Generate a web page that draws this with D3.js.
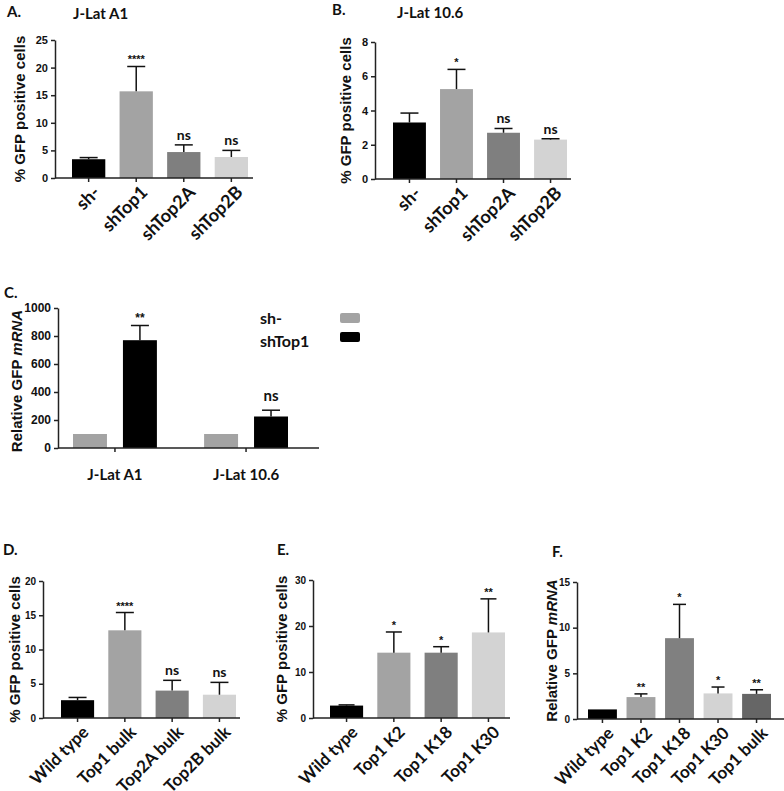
<!DOCTYPE html>
<html>
<head>
<meta charset="utf-8">
<script src="https://cdn.jsdelivr.net/npm/d3@7"></script>
<style>body { margin: 0; background: #fff; }</style>
</head>
<body>
<script>
// ---- data ----
const catsA = ["sh-", "shTop1", "shTop2A", "shTop2B"];
const meanA = [3.4, 15.7, 4.7, 3.8];
const errA  = [3.7, 20.2, 6.0, 5.0];
const sigA  = ["", "****", "ns", "ns"];
const ticksA = [0, 5, 10, 15, 20, 25];

const catsB = ["sh-", "shTop1", "shTop2A", "shTop2B"];
const meanB = [3.3, 5.25, 2.7, 2.3];
const errB  = [3.85, 6.4, 2.95, 2.35];
const sigB  = ["", "*", "ns", "ns"];
const ticksB = [0, 2, 4, 6, 8];

const groupsC = ["J-Lat A1", "J-Lat 10.6"];
const seriesC = ["sh-", "shTop1"];
const meanC = [[100, 770], [100, 225]];
const errC  = [[100, 875], [100, 270]];
const sigC  = [["", "**"], ["", "ns"]];
const ticksC = [0, 200, 400, 600, 800, 1000];

const catsD = ["Wild type", "Top1 bulk", "Top2A bulk", "Top2B bulk"];
const meanD = [2.6, 12.8, 4.0, 3.4];
const errD  = [3.0, 15.4, 5.5, 5.2];
const sigD  = ["", "****", "ns", "ns"];
const ticksD = [0, 5, 10, 15, 20];

const catsE = ["Wild type", "Top1 K2", "Top1 K18", "Top1 K30"];
const meanE = [2.7, 14.2, 14.2, 18.6];
const errE  = [2.85, 18.7, 15.5, 25.9];
const sigE  = ["", "*", "*", "**"];
const ticksE = [0, 10, 20, 30];

const catsF = ["Wild type", "Top1 K2", "Top1 K18", "Top1 K30", "Top1 bulk"];
const meanF = [1.05, 2.4, 8.85, 2.8, 2.75];
const errF  = [1.05, 2.75, 12.55, 3.5, 3.2];
const sigF  = ["", "**", "*", "*", "**"];
const ticksF = [0, 5, 10, 15];

// ---- styles ----
const grey4 = ["#000000", "#a3a3a3", "#7f7f7f", "#d3d3d3"];
const grey5 = ["#000000", "#a3a3a3", "#808080", "#d3d3d3", "#666666"];
const colorsC = ["#a3a3a3", "#000000"];
const tickFont = "'Liberation Sans', Arial, sans-serif";
const labFont = "Lato, 'Open Sans', sans-serif";
const axisColor = "#222";
const gfpTitle = [["% GFP positive cells", false]];
const mrnaTitle = [["Relative GFP ", false], ["mRNA", true]];

const svg = d3.select("body").append("svg")
    .attr("width", 784).attr("height", 791);

function styleYAxis(sel, size) {
    sel.select(".domain").attr("stroke", axisColor).attr("stroke-width", 1.5);
    sel.selectAll(".tick line").attr("stroke", axisColor).attr("stroke-width", 1.5);
    sel.selectAll(".tick text").attr("font-family", tickFont).attr("font-weight", "bold")
       .attr("font-size", size).attr("fill", "#111");
}

function yTitle(x, y, parts, size) {
    const t = svg.append("text")
        .attr("transform", `translate(${x},${y}) rotate(-90)`)
        .attr("text-anchor", "middle").attr("dy", "0.35em")
        .attr("font-family", tickFont).attr("font-weight", "bold")
        .attr("font-size", size).attr("fill", "#111");
    parts.forEach(p => t.append("tspan").attr("font-style", p[1] ? "italic" : "normal").text(p[0]));
}

function label(x, y, txt, size, font) {
    svg.append("text").attr("x", x).attr("y", y)
       .attr("font-family", font || labFont).attr("font-weight", "bold")
       .attr("font-size", size).attr("fill", "#111").text(txt);
}

function barPanel(p) {
    const y = d3.scaleLinear().domain([0, p.ticks[p.ticks.length - 1]]).range([p.y0, p.yTop]);
    const x = d3.scaleBand().domain(p.cats).range([p.bx0, p.bx1]).paddingInner(p.pad);
    const g = svg.append("g");
    const bw = x.bandwidth();

    g.selectAll("rect.bar").data(p.cats).join("rect")
        .attr("class", "bar")
        .attr("x", d => x(d)).attr("width", bw)
        .attr("y", (d, i) => y(p.mean[i]))
        .attr("height", (d, i) => p.y0 - y(p.mean[i]))
        .attr("fill", (d, i) => p.colors[i]);

    p.cats.forEach((d, i) => {
        const cx = x(d) + bw / 2;
        if (p.err[i] > p.mean[i]) {
            g.append("line").attr("x1", cx).attr("x2", cx)
             .attr("y1", y(p.mean[i])).attr("y2", y(p.err[i]))
             .attr("stroke", "#111").attr("stroke-width", 1.5);
            g.append("line").attr("x1", cx - p.cap / 2).attr("x2", cx + p.cap / 2)
             .attr("y1", y(p.err[i])).attr("y2", y(p.err[i]))
             .attr("stroke", "#111").attr("stroke-width", 1.5);
        }
        if (p.sig[i]) {
            const star = p.sig[i] !== "ns";
            g.append("text").attr("x", cx).attr("y", y(p.err[i]) - (star ? 3 : 5))
             .attr("text-anchor", "middle")
             .attr("font-family", star ? tickFont : labFont).attr("font-weight", "bold")
             .attr("font-size", star ? 11 : 14).attr("fill", "#111")
             .text(p.sig[i]);
        }
    });

    const ya = g.append("g").attr("transform", `translate(${p.ax},0)`)
        .call(d3.axisLeft(y).tickValues(p.ticks).tickSize(4).tickSizeOuter(0).tickPadding(3));
    styleYAxis(ya, p.tickSize);

    g.append("line").attr("x1", p.ax).attr("x2", p.axEnd)
     .attr("y1", p.y0).attr("y2", p.y0)
     .attr("stroke", axisColor).attr("stroke-width", 1.5);

    const xa = g.append("g").attr("transform", `translate(0,${p.y0})`)
        .call(d3.axisBottom(x).tickSize(4).tickSizeOuter(0));
    xa.select(".domain").remove();
    xa.selectAll(".tick line").attr("stroke", axisColor).attr("stroke-width", 1.5);
    xa.selectAll(".tick text")
        .attr("x", 0).attr("y", 0).attr("dy", "0.35em")
        .attr("transform", "translate(8,11) rotate(-45)")
        .attr("text-anchor", "end")
        .attr("font-family", labFont).attr("font-weight", "bold")
        .attr("font-size", p.catSize).attr("fill", "#111");

    yTitle(p.titleX, (p.y0 + p.yTop) / 2, p.title, p.titleSize);
}

// ---- panel A ----
label(7, 17, "A.", 15);
label(73, 19, "J-Lat A1", 15);
barPanel({ cats: catsA, mean: meanA, err: errA, sig: sigA, ticks: ticksA, colors: grey4,
    ax: 55, axEnd: 253, y0: 178, yTop: 40, bx0: 72, bx1: 248, pad: 0.3, cap: 18,
    tickSize: 11, catSize: 18, title: gfpTitle, titleX: 20, titleSize: 15 });

// ---- panel B ----
label(332, 15, "B.", 15);
label(397, 18, "J-Lat 10.6", 15);
barPanel({ cats: catsB, mean: meanB, err: errB, sig: sigB, ticks: ticksB, colors: grey4,
    ax: 375, axEnd: 571, y0: 179, yTop: 42, bx0: 393, bx1: 567, pad: 0.3, cap: 18,
    tickSize: 11, catSize: 18, title: gfpTitle, titleX: 346, titleSize: 15 });

// ---- panel C (grouped) ----
label(4, 298, "C.", 15);
{
    const y = d3.scaleLinear().domain([0, 1000]).range([448, 308]);
    const x0 = d3.scaleBand().domain(groupsC).range([73, 288]).paddingInner(0.36);
    const x1 = d3.scaleBand().domain(seriesC).range([0, x0.bandwidth()]).paddingInner(0.32);
    const g = svg.append("g");
    groupsC.forEach((grp, gi) => {
        seriesC.forEach((s, si) => {
            const bx = x0(grp) + x1(s), bw = x1.bandwidth(), cx = bx + bw / 2;
            g.append("rect").attr("x", bx).attr("width", bw)
             .attr("y", y(meanC[gi][si])).attr("height", 448 - y(meanC[gi][si]))
             .attr("fill", colorsC[si]);
            if (errC[gi][si] > meanC[gi][si]) {
                g.append("line").attr("x1", cx).attr("x2", cx)
                 .attr("y1", y(meanC[gi][si])).attr("y2", y(errC[gi][si]))
                 .attr("stroke", "#111").attr("stroke-width", 1.5);
                g.append("line").attr("x1", cx - 9).attr("x2", cx + 9)
                 .attr("y1", y(errC[gi][si])).attr("y2", y(errC[gi][si]))
                 .attr("stroke", "#111").attr("stroke-width", 1.5);
            }
            if (sigC[gi][si]) {
                const star = sigC[gi][si] !== "ns";
                g.append("text").attr("x", cx).attr("y", y(errC[gi][si]) - (star ? 4 : 9))
                 .attr("text-anchor", "middle")
                 .attr("font-family", star ? tickFont : labFont).attr("font-weight", "bold")
                 .attr("font-size", star ? 12 : 15).attr("fill", "#111").text(sigC[gi][si]);
            }
        });
    });
    const ya = g.append("g").attr("transform", "translate(58,0)")
        .call(d3.axisLeft(y).tickValues(ticksC).tickFormat(d3.format("d"))
              .tickSize(4).tickSizeOuter(0).tickPadding(3));
    styleYAxis(ya, 12);
    g.append("line").attr("x1", 58).attr("x2", 319).attr("y1", 448).attr("y2", 448)
     .attr("stroke", axisColor).attr("stroke-width", 1.5);
    const xa = g.append("g").attr("transform", "translate(0,448)")
        .call(d3.axisBottom(x0).tickSize(4).tickSizeOuter(0).tickPadding(17));
    xa.select(".domain").remove();
    xa.selectAll(".tick line").attr("stroke", axisColor).attr("stroke-width", 1.5);
    xa.selectAll(".tick text").attr("font-family", labFont).attr("font-weight", "bold")
      .attr("font-size", 15).attr("fill", "#111");
    yTitle(17, 381, mrnaTitle, 15);

    // legend
    seriesC.forEach((s, si) => {
        g.append("rect").attr("x", 340).attr("y", 313 + si * 19).attr("width", 20).attr("height", 10)
         .attr("rx", 2).attr("fill", colorsC[si]);
        label(260, 324 + si * 23, s, 16);
    });
}

// ---- panel D ----
label(3, 555, "D.", 15);
barPanel({ cats: catsD, mean: meanD, err: errD, sig: sigD, ticks: ticksD, colors: grey4,
    ax: 43, axEnd: 240, y0: 718, yTop: 581, bx0: 61, bx1: 236, pad: 0.3, cap: 18,
    tickSize: 10, catSize: 17, title: gfpTitle, titleX: 15, titleSize: 15 });

// ---- panel E ----
label(277, 555, "E.", 15);
barPanel({ cats: catsE, mean: meanE, err: errE, sig: sigE, ticks: ticksE, colors: grey4,
    ax: 313, axEnd: 510, y0: 718, yTop: 580, bx0: 330, bx1: 505, pad: 0.3, cap: 16,
    tickSize: 10, catSize: 17, title: gfpTitle, titleX: 282, titleSize: 15 });

// ---- panel F ----
label(552, 557, "F.", 15);
barPanel({ cats: catsF, mean: meanF, err: errF, sig: sigF, ticks: ticksF, colors: grey5,
    ax: 577, axEnd: 784, y0: 719, yTop: 582, bx0: 588, bx1: 771, pad: 0.25, cap: 13,
    tickSize: 10, catSize: 17, title: mrnaTitle, titleX: 552, titleSize: 15 });
</script>
</body>
</html>
